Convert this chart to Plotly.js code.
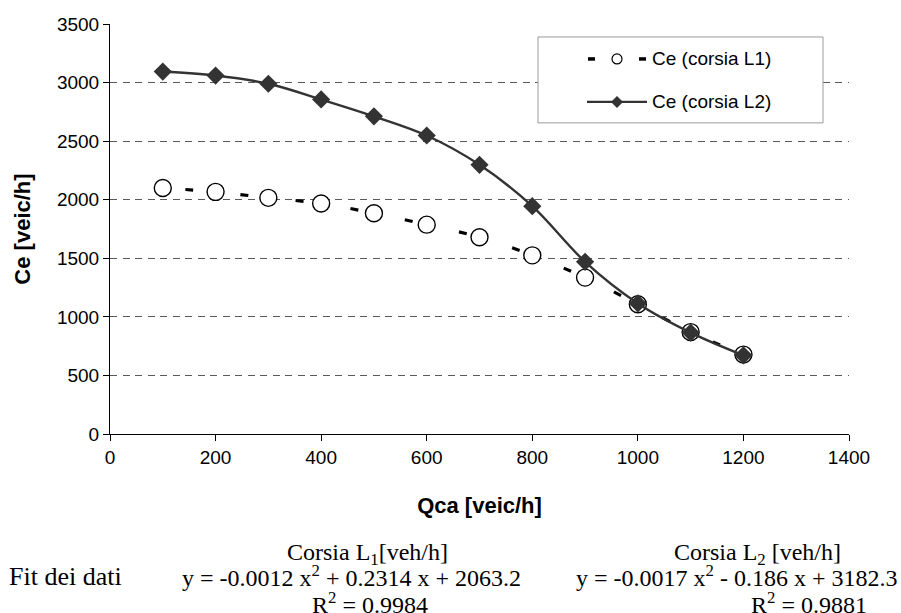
<!DOCTYPE html>
<html><head><meta charset="utf-8">
<script src="https://cdn.plot.ly/plotly-3.0.1.min.js"></script>
<style>html,body{margin:0;padding:0;background:#fff}#chart{width:901px;height:613px}</style>
</head><body><div id="chart"></div>
<script>
// ---- data ----
const qca = [100, 200, 300, 400, 500, 600, 700, 800, 900, 1000, 1100, 1200];
const ceL1 = [2100, 2067, 2016, 1968, 1885, 1787, 1680, 1525, 1335, 1107, 870, 678];
const ceL2 = [3094, 3060, 2990, 2856, 2712, 2548, 2298, 1945, 1470, 1115, 866, 672];
const seriesNames = ['Ce (corsia L1)', 'Ce (corsia L2)'];
const xTickVals = [0, 200, 400, 600, 800, 1000, 1200, 1400];
const yTickVals = [0, 500, 1000, 1500, 2000, 2500, 3000, 3500];
const xTitle = 'Qca [veic/h]';
const yTitle = 'Ce [veic/h]';
const fitLabel = 'Fit dei dati';
const fitHeads = ['Corsia L<sub>1</sub>[veh/h]', 'Corsia L<sub>2</sub> [veh/h]'];
const fitEqs = ['y = -0.0012 x<sup>2</sup> + 0.2314 x + 2063.2', 'y = -0.0017 x<sup>2</sup> - 0.186 x + 3182.3'];
const fitR2 = ['R<sup>2</sup> = 0.9984', 'R<sup>2</sup> = 0.9881'];

// ---- layout geometry (pixels) ----
const W = 901, H = 613;
const L = 110, R = 849, T = 24, B = 434.5;
const px = v => (v - L) / (R - L);
const py = v => (B - v) / (B - T);

const sans = 'Liberation Sans, Arial, sans-serif';
const serif = 'Liberation Serif, Times New Roman, serif';

const traces = [
  {
    x: qca, y: ceL1, name: seriesNames[0], type: 'scatter', mode: 'lines+markers',
    line: {color: '#000', width: 3.2, dash: '0px,22.4px,8px,25.1px', shape: 'spline', smoothing: 1},
    marker: {symbol: 'circle', size: 17, color: '#fff', line: {color: '#000', width: 1.4}},
    showlegend: false, hoverinfo: 'x+y'
  },
  {
    x: qca, y: ceL2, name: seriesNames[1], type: 'scatter', mode: 'lines+markers',
    line: {color: '#333', width: 2.4, shape: 'spline', smoothing: 1},
    marker: {symbol: 'diamond', size: 14, color: '#333', line: {width: 0}},
    showlegend: false, hoverinfo: 'x+y'
  }
];

// custom legend (layout decoration)
const legBox = {x0: 538, x1: 823, y0: 37, y1: 123};
const row1 = 59, row2 = 102, symC = 617;
const shapes = [
  {type: 'rect', xref: 'paper', yref: 'paper', x0: px(legBox.x0), x1: px(legBox.x1), y0: py(legBox.y1), y1: py(legBox.y0),
   line: {color: '#9a9a9a', width: 1}, fillcolor: '#fff', layer: 'above'},
  {type: 'line', xref: 'paper', yref: 'paper', x0: px(588), x1: px(595), y0: py(row1), y1: py(row1), line: {color: '#000', width: 3.5}, layer: 'above'},
  {type: 'line', xref: 'paper', yref: 'paper', x0: px(639), x1: px(646), y0: py(row1), y1: py(row1), line: {color: '#000', width: 3.5}, layer: 'above'},
  {type: 'circle', xref: 'paper', yref: 'paper', x0: px(symC - 5), x1: px(symC + 5), y0: py(row1 + 5), y1: py(row1 - 5),
   line: {color: '#000', width: 1.2}, fillcolor: '#fff', layer: 'above'},
  {type: 'line', xref: 'paper', yref: 'paper', x0: px(587), x1: px(647), y0: py(row2), y1: py(row2), line: {color: '#333', width: 2.4}, layer: 'above'},
  {type: 'path', xref: 'paper', yref: 'paper',
   path: `M${px(symC - 6)},${py(row2)} L${px(symC)},${py(row2 - 6)} L${px(symC + 6)},${py(row2)} L${px(symC)},${py(row2 + 6)} Z`,
   line: {width: 0}, fillcolor: '#333', layer: 'above'}
];

const ann = (text, x, y, size, font, anchor) => ({
  text, xref: 'paper', yref: 'paper', x: px(x), y: py(y), xanchor: anchor || 'left', yanchor: 'middle',
  showarrow: false, font: {family: font, size, color: '#000'}, borderpad: 0
});

const annotations = [
  ann(seriesNames[0], 651, row1, 19, sans),
  ann(seriesNames[1], 651, row2, 19, sans),
  ann(fitLabel, 8, 577, 26, serif),
  ann(fitHeads[0], 286, 555, 24, serif),
  ann(fitEqs[0], 181, 577, 24, serif),
  ann(fitR2[0], 311, 604, 24, serif),
  ann(fitHeads[1], 673, 555, 24, serif),
  ann(fitEqs[1], 575, 577, 24, serif),
  ann(fitR2[1], 750, 604, 24, serif)
];

const layout = {
  width: W, height: H,
  margin: {l: L, r: W - R, t: T, b: H - B},
  paper_bgcolor: '#fff', plot_bgcolor: '#fff',
  showlegend: false,
  xaxis: {
    range: [0, 1400], tickvals: xTickVals, ticktext: xTickVals.map(String),
    showgrid: false, zeroline: false, showline: true, linecolor: '#000', linewidth: 1,
    ticks: 'outside', ticklen: 6, tickcolor: '#000', tickwidth: 1,
    tickfont: {family: sans, size: 19, color: '#000'},
    title: {text: '<b>' + xTitle + '</b>', font: {family: sans, size: 22, color: '#000'}, standoff: 30}
  },
  yaxis: {
    range: [0, 3500], tickvals: yTickVals, ticktext: yTickVals.map(String),
    showgrid: true, gridcolor: '#5a5a5a', gridwidth: 1.2, griddash: '7px,5.5px',
    zeroline: false, showline: true, linecolor: '#000', linewidth: 1,
    ticks: 'outside', ticklen: 6, tickcolor: '#000', tickwidth: 1,
    tickfont: {family: sans, size: 19, color: '#000'},
    title: {text: '<b>' + yTitle + '</b>', font: {family: sans, size: 22, color: '#000'}, standoff: 20}
  },
  shapes, annotations
};

Plotly.newPlot('chart', traces, layout, {displayModeBar: false, staticPlot: true});
</script>
</body></html>
